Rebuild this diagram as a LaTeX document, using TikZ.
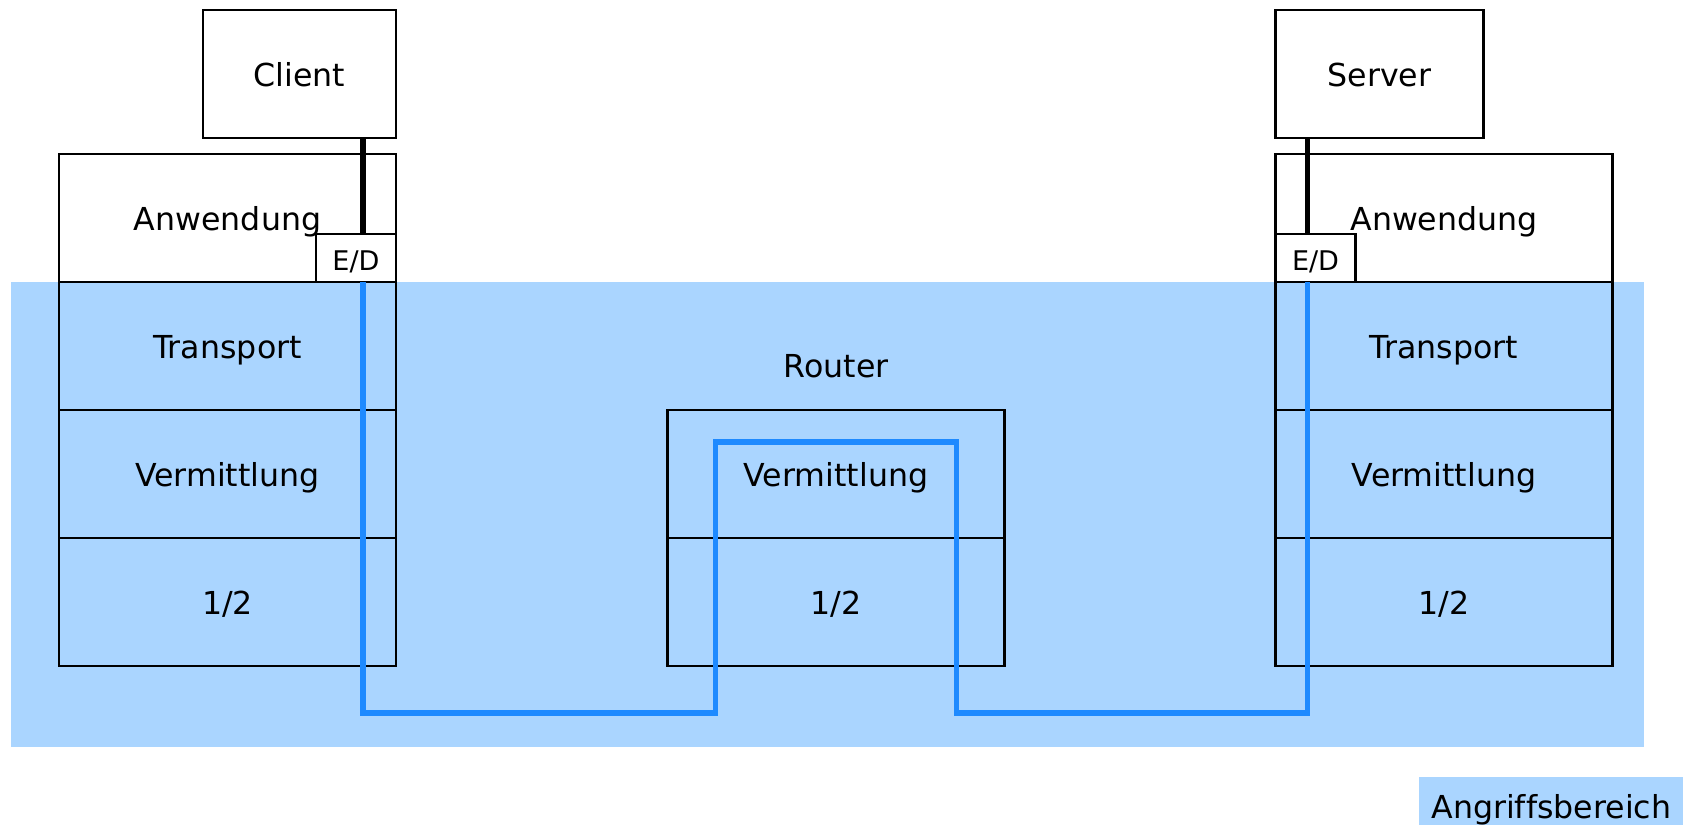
\documentclass[tikz,border=0pt]{standalone}
\usepackage{fontspec}
\setmainfont[Ligatures=NoCommon]{DejaVu Sans}
\usetikzlibrary{positioning}
\definecolor{zoneblue}{RGB}{170,213,255}
\definecolor{routeblue}{RGB}{30,138,255}

\begin{document}
\begin{tikzpicture}[
        node distance=0pt,
        font=\fontsize{9}{11}\selectfont,
        layer/.style={draw, line width=0.6pt, outer sep=0pt, inner sep=0pt,
            minimum width=3.37cm, minimum height=1.28cm,
            text height=0.32cm, text depth=0.06cm},
        host/.style={layer, minimum width=#1},
        crypt/.style={draw, fill=white, line width=0.6pt, outer sep=0pt, inner sep=0pt,
            minimum width=0.8cm, minimum height=0.48cm,
            text height=0.3cm, text depth=0.04cm, font=\fontsize{7.7}{9}\selectfont},
        link/.style={line width=1.5pt},
        route/.style={routeblue, line width=1.5pt},
        legend/.style={fill=zoneblue, inner sep=0pt, minimum width=2.64cm,
            text height=0.41cm, text depth=0.07cm}
    ]
        \useasboundingbox (0,0) rectangle (16.84,8.26);

        % Attack zone
        \fill[zoneblue] (0.11,0.79) rectangle (16.44,5.44);

        % Client stack
        \node[layer] (cAnw) at (2.275,6.08) {Anwendung};
        \node[layer, below=of cAnw] (cTrans) {Transport};
        \node[layer, below=of cTrans] (cVerm) {Vermittlung};
        \node[layer, below=of cVerm] (cPhy) {1/2};
        \node[host=1.93cm, above left=0.16cm and 0pt of cAnw.north east] (client) {Client};
        \node[crypt, anchor=south east] (cED) at (cAnw.south east) {E/D};

        % Server stack
        \node[layer] (sAnw) at (14.44,6.08) {Anwendung};
        \node[layer, below=of sAnw] (sTrans) {Transport};
        \node[layer, below=of sTrans] (sVerm) {Vermittlung};
        \node[layer, below=of sVerm] (sPhy) {1/2};
        \node[host=2.08cm, above right=0.16cm and 0pt of sAnw.north west] (server) {Server};
        \node[crypt, anchor=south west] (sED) at (sAnw.south west) {E/D};

        % Router
        \node[layer] (mVerm) at (8.36,3.52) {Vermittlung};
        \node[layer, below=of mVerm] (mPhy) {1/2};
        \node[above=0.2cm of mVerm] (router) {Router};

        % Host to E/D
        \coordinate (cdrop) at ([xshift=-0.33cm]cED.south east);
        \coordinate (sdrop) at ([xshift=0.32cm]sED.south west);
        \coordinate (ground) at (0,1.13);
        \draw[link] ([xshift=-0.33cm]cED.north east) -- ([xshift=-0.33cm]cED.north east |- client.south);
        \draw[link] ([xshift=0.32cm]sED.north west) -- ([xshift=0.32cm]sED.north west |- server.south);

        % Path through the network
        \draw[route] (cdrop) -- (cdrop |- ground)
            -| ([xshift=0.48cm,yshift=-0.32cm]mVerm.north west)
            -- ([xshift=-0.48cm,yshift=-0.32cm]mVerm.north east)
            |- (sdrop |- ground) -- (sdrop);

        % Legend
        \node[legend, anchor=south east] (key) at (16.84,0) {Angriffsbereich};
    \end{tikzpicture}
\end{document}
